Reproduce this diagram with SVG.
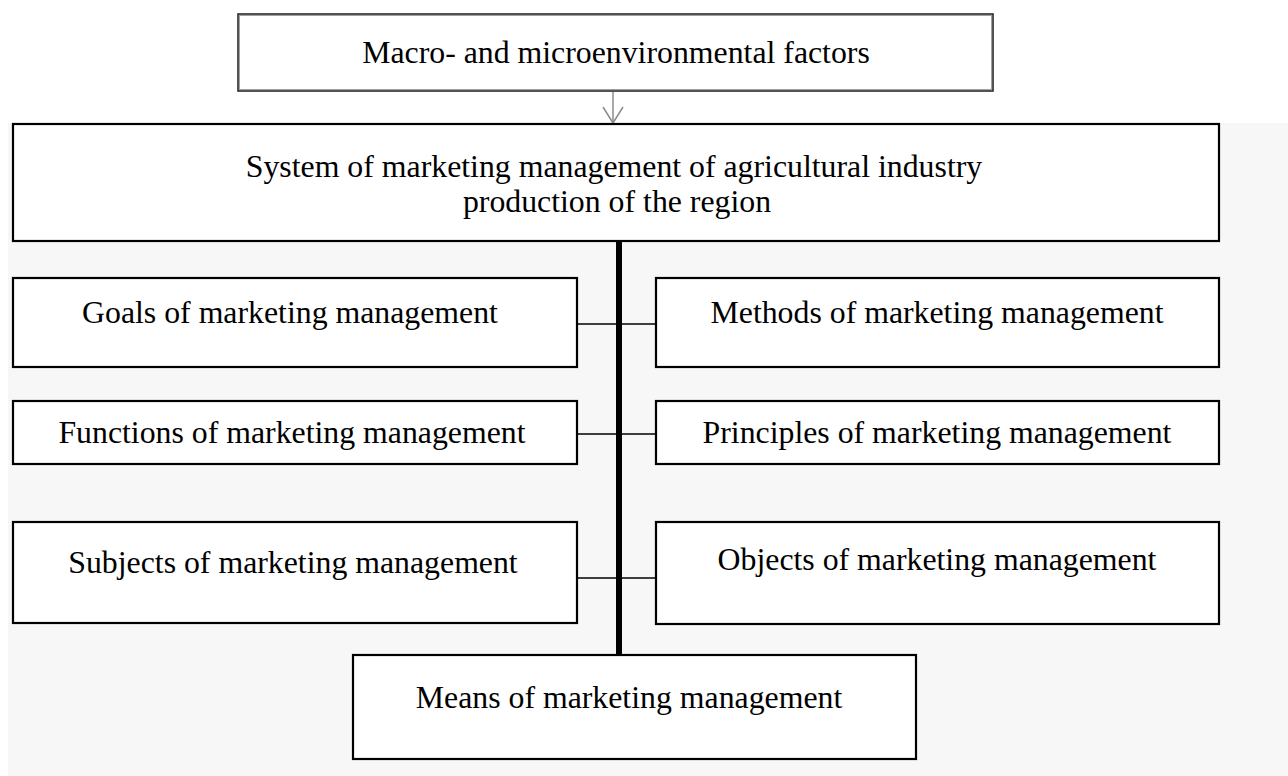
<svg xmlns="http://www.w3.org/2000/svg" width="1288" height="776" viewBox="0 0 1288 776">
  <defs>
    <style>
      .box { fill: #ffffff; stroke: #000000; stroke-width: 2.2; }
      .lbl { font-family: "Liberation Serif", "Times New Roman", serif; font-size: 31.8px; fill: #000000; text-anchor: middle; }
      .link { stroke: #000000; stroke-width: 1.7; fill: none; }
      .spine { stroke: #000000; stroke-width: 6; fill: none; }
      .feed { stroke: #8c8c8c; stroke-width: 1.5; fill: none; }
    </style>
  </defs>

  <!-- page backgrounds -->
  <rect x="0" y="0" width="1288" height="776" fill="#ffffff"/>
  <rect x="8" y="123" width="1280" height="653" fill="#f7f7f7"/>

  <!-- connectors -->
  <g id="connectors">
    <line class="feed" x1="613" y1="92" x2="613" y2="123"/>
    <polyline class="feed" points="603,107 613,123 623,107"/>
    <line class="spine" x1="619" y1="241" x2="619" y2="655"/>
    <line class="link" x1="577" y1="324" x2="656" y2="324"/>
    <line class="link" x1="577" y1="434" x2="656" y2="434"/>
    <line class="link" x1="577" y1="578" x2="656" y2="578"/>
  </g>

  <g id="factors">
    <rect x="238" y="14" width="755" height="77" fill="#ffffff" stroke="#1a1a1a" stroke-width="1.5"/>
    <rect x="239.5" y="15.5" width="752" height="74" fill="none" stroke="#a0a0a0" stroke-width="1"/>
    <text class="lbl" x="616" y="63">Macro- and microenvironmental factors</text>
  </g>

  <g id="system">
    <rect class="box" x="13" y="124" width="1206" height="117"/>
    <text class="lbl" x="614" y="177">System of marketing management of agricultural industry</text>
    <text class="lbl" x="617" y="212">production of the region</text>
  </g>

  <g id="goals">
    <rect class="box" x="13" y="278" width="564" height="89"/>
    <text class="lbl" x="290" y="323">Goals of marketing management</text>
  </g>

  <g id="methods">
    <rect class="box" x="656" y="278" width="563" height="89"/>
    <text class="lbl" x="937" y="323">Methods of marketing management</text>
  </g>

  <g id="functions">
    <rect class="box" x="13" y="401" width="564" height="63"/>
    <text class="lbl" x="292" y="443">Functions of marketing management</text>
  </g>

  <g id="principles">
    <rect class="box" x="656" y="401" width="563" height="63"/>
    <text class="lbl" x="937" y="443">Principles of marketing management</text>
  </g>

  <g id="subjects">
    <rect class="box" x="13" y="522" width="564" height="101"/>
    <text class="lbl" x="293" y="573">Subjects of marketing management</text>
  </g>

  <g id="objects">
    <rect class="box" x="656" y="522" width="563" height="102"/>
    <text class="lbl" x="937" y="570">Objects of marketing management</text>
  </g>

  <g id="means">
    <rect class="box" x="353" y="655" width="563" height="104"/>
    <text class="lbl" x="629" y="708">Means of marketing management</text>
  </g>
</svg>
